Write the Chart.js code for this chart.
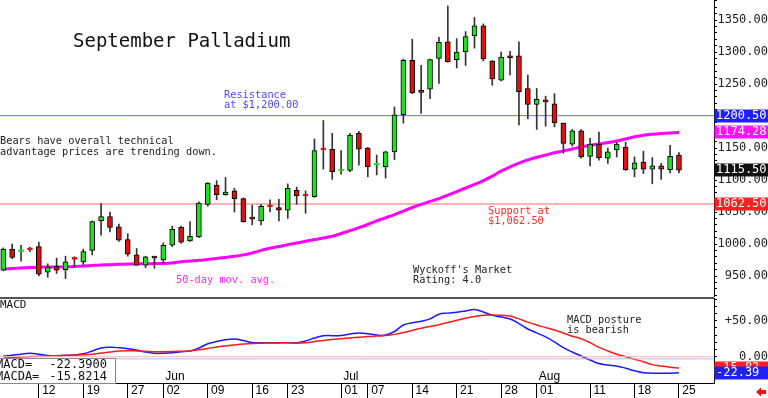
<!DOCTYPE html>
<html>
<head>
<meta charset="utf-8">
<script src="https://cdn.jsdelivr.net/npm/chart.js@4.4.1/dist/chart.umd.min.js"></script>
<style>
  html, body { margin: 0; padding: 0; background: #fff; }
  #wrap { position: relative; width: 768px; height: 398px; overflow: hidden; background: #fff; }
  #price { position: absolute; left: 0; top: 0; }
  #macd { position: absolute; left: 0; top: 297px; }
</style>
</head>
<body>
<div id="wrap">
  <canvas id="price" width="768" height="297"></canvas>
  <canvas id="macd" width="768" height="101"></canvas>
</div>
<script>
// daily candles, May 6 .. Aug 25
const opens  = [959,992,988,992,996,956,965,960,977,972,990,1036,1043,1027,1007,983,967,980,975,998,
                1026,1005,1011,1062,1092,1077,1083,1071,1041,1036,1059,1057,1053,1084,1076,1074,1148,1148,1114,1115,
                1173,1150,1123,1121,1144,1202,1287,1239,1242,1290,1316,1288,1300,1325,1341,1286,1256,1293,1294,1243,
                1218,1224,1219,1189,1156,1177,1137,1156,1134,1147,1151,1117,1128,1117,1122,1116,1139];
const highs  = [994,1000,998,995,1003,969,978,981,980,992,1036,1063,1050,1031,1016,993,981,981,1002,1028,
                1028,1035,1066,1096,1099,1104,1087,1072,1061,1062,1069,1070,1094,1089,1083,1164,1193,1173,1146,1173,
                1176,1151,1139,1145,1214,1289,1320,1279,1289,1323,1372,1321,1332,1354,1344,1287,1300,1301,1316,1264,
                1243,1231,1235,1189,1179,1179,1165,1175,1150,1159,1159,1136,1145,1135,1126,1154,1143];
const lows   = [958,977,973,988,950,948,954,946,964,968,983,1014,1019,1004,981,967,963,962,970,996,
                1001,1004,1010,1059,1069,1076,1050,1034,1030,1030,1050,1036,1040,1062,1048,1073,1117,1101,1109,1113,
                1123,1105,1108,1103,1132,1189,1235,1204,1227,1251,1284,1275,1279,1306,1286,1248,1255,1264,1186,1196,
                1179,1184,1183,1142,1153,1134,1122,1131,1126,1136,1115,1105,1110,1094,1101,1111,1111];
const closes = [992,979,989,991,953,964,959,972,976,988,1035,1043,1026,1006,984,967,980,978,998,1023,
                1003,1012,1064,1095,1077,1081,1071,1035,1039,1059,1058,1053,1087,1075,1075,1146,1147,1113,1115,1170,
                1148,1121,1124,1144,1202,1287,1236,1237,1288,1315,1285,1300,1324,1341,1289,1258,1292,1291,1238,1218,
                1226,1222,1189,1157,1177,1136,1156,1135,1144,1156,1116,1127,1117,1122,1117,1137,1115.5];
// 50-day moving average
const ma50 = [960.8,961.7,962.5,963.3,963.8,964.0,964.2,964.4,964.9,965.8,966.6,967.3,967.7,968.2,968.6,968.9,969.1,969.4,969.6,970.5,
              972.4,973.5,974.5,976,977.5,979,980.8,983,986,990,993.3,996,999,1001.5,1004.2,1007,1009.5,1012,1016.5,1020.8,
              1025.5,1030.5,1036,1041,1046,1051.5,1057,1062,1066.5,1071,1076.5,1082,1087.5,1093,1099,1106,1114,1120.5,1126.5,1131.5,
              1135.5,1139,1142.5,1145.5,1148.5,1151.5,1154,1156.2,1158.5,1161,1164,1167.5,1170,1171.5,1172.6,1173.5,1174.28];
const macd = [0.5,2,3.5,4.7,3.5,1.8,1.5,2,2.4,4,8,12,13,12.5,11.2,9.5,6.5,4.7,4.8,5.5,
              7,8,12,18,21,23.5,24.6,22.5,19.6,19.4,19.4,19.4,19.4,19.4,22,26,29.2,29.2,29.5,31.5,
              33,32,30,30,35,44,47,49.3,52.5,59,60.5,61.7,63.5,65.5,62,57.5,55,52.4,46,38.5,
              33,27.5,20.5,12.5,6.5,1,-4.5,-9.5,-11.5,-13,-16,-19.5,-22.2,-22.8,-23,-22.8,-22.39];
const macdSignal = [-2,-1.2,-0.5,0.2,0.7,1,1.4,1.8,2.2,2.6,3.5,5,6.5,7.8,8.3,8,7.5,7,7,7.2,
              7.6,8,9.5,11.5,13.5,15,16.3,17.5,18.4,18.8,19,19.2,19.3,18.8,19.5,21,22.6,24,25,26,
              27,28,28.7,29.4,31,33.5,36.5,39.5,41.8,44.5,47.5,50.5,53.5,55.8,57.4,57.9,57.4,56.5,52.5,48,
              44,40.5,37,33,28.5,25,19.5,13,8,3.5,0,-3.5,-7,-11,-13,-14.6,-15.8214];
const resistance = 1200.5;
const support = 1062.5;
const weekTicks  = [4, 9, 14, 18, 23, 28, 32, 38, 41, 46, 51, 56, 60, 66, 71, 76];
const weekLabels = ['12','19','27','02','09','16','23','01','07','14','21','28','01','11','18','25'];
const monthTicks  = [18, 38, 60];
const monthLabels = ['Jun', 'Jul', 'Aug'];

const X_MIN = -0.37, X_MAX = 79.94;
const MONO = "'DejaVu Sans Mono', monospace";
const SANS = "'Liberation Sans', Arial, sans-serif";
const GREEN = '#1ee01e', RED = '#e01010';

const idx = opens.map((_, i) => i);
const candleColor = i => closes[i] >= opens[i] ? GREEN : RED;
const isDash = i => Math.abs(closes[i] - opens[i]) < 1.5;

function valueBox(ctx, y, text, bg) {
  ctx.fillStyle = bg;
  ctx.fillRect(714.5, Math.round(y) - 6.5, 54, 13);
  ctx.fillStyle = '#fff';
  ctx.font = '12px ' + MONO;
  ctx.textAlign = 'left';
  ctx.textBaseline = 'middle';
  ctx.fillText(text, 716, Math.round(y));
}

function textLines(ctx, lines, x, y, step, color, font) {
  ctx.fillStyle = color;
  ctx.font = font;
  ctx.textAlign = 'left';
  ctx.textBaseline = 'middle';
  lines.forEach((t, k) => ctx.fillText(t, x, y + k * step));
}

const priceNotes = {
  id: 'priceNotes',
  afterDraw(chart) {
    const ctx = chart.ctx, y = chart.scales.y;
    const small = '10.3px ' + MONO;
    ctx.save();
    textLines(ctx, ['September Palladium'], 73, 42, 0, '#111', '19px ' + MONO);
    textLines(ctx, ['Resistance', 'at $1,200.00'], 224, 95, 10.5, '#4a4aff', small);
    textLines(ctx, ['Bears have overall technical', 'advantage prices are trending down.'], 0, 141.5, 11, '#222', small);
    textLines(ctx, ['Support at', '$1,062.50'], 488, 211, 10.5, '#ff2a2a', small);
    textLines(ctx, ['50-day mov. avg.'], 176, 280, 0, '#ff2aff', small);
    textLines(ctx, ["Wyckoff's Market", 'Rating: 4.0'], 413, 270, 10.5, '#222', small);
    valueBox(ctx, y.getPixelForValue(resistance), resistance.toFixed(2), '#2020ff');
    valueBox(ctx, y.getPixelForValue(ma50[ma50.length - 1]), ma50[ma50.length - 1].toFixed(2), '#ff10ff');
    valueBox(ctx, y.getPixelForValue(closes[closes.length - 1]), closes[closes.length - 1].toFixed(2), '#111');
    valueBox(ctx, y.getPixelForValue(support), support.toFixed(2), '#ff2020');
    ctx.restore();
  }
};

new Chart(document.getElementById('price'), {
  type: 'bar',
  data: {
    datasets: [
      { type: 'line', data: idx.map(i => ({ x: i, y: ma50[i] })), borderColor: '#ff00ff', borderWidth: 3,
        pointRadius: 0, tension: 0.3, order: 3 },
      { type: 'line', data: [{ x: X_MIN, y: resistance }, { x: X_MAX, y: resistance }], borderColor: '#6a6aff',
        borderWidth: 1, pointRadius: 0, order: 4 },
      { type: 'line', data: [{ x: X_MIN, y: support }, { x: X_MAX, y: support }], borderColor: '#ff6a6a',
        borderWidth: 1, pointRadius: 0, order: 4 },
      { data: idx.map(i => ({ x: i, y: [lows[i], highs[i]] })), backgroundColor: '#333', borderWidth: 0,
        barThickness: 1, grouped: false, order: 2 },
      { data: idx.map(i => ({ x: i, y: [Math.min(opens[i], closes[i]), Math.max(opens[i], closes[i])] })),
        backgroundColor: idx.map(candleColor),
        borderColor: idx.map(i => isDash(i) ? candleColor(i) : '#000'),
        borderWidth: 1, borderSkipped: false, barThickness: 5, minBarLength: 2, grouped: false, order: 1 }
    ]
  },
  options: {
    responsive: false, animation: false, devicePixelRatio: 1,
    layout: { padding: 0 },
    plugins: { legend: { display: false }, tooltip: { enabled: false } },
    scales: {
      x: { type: 'linear', min: X_MIN, max: X_MAX, bounds: 'data', offset: false, display: false },
      y: {
        position: 'right', min: 917.2, max: 1381.25, bounds: 'data',
        afterBuildTicks: s => { const t = []; for (let v = 920; v <= 1380; v += 10) t.push({ value: v }); s.ticks = t; },
        afterFit: s => { s.width = 54; s.paddingTop = 0; s.paddingBottom = 0; },
        ticks: { autoSkip: false, padding: -1, crossAlign: 'far', color: '#222', font: { family: MONO, size: 12 },
                 callback: v => (v % 50 === 0 && v >= 950 && v <= 1350) ? v.toFixed(2) : '' },
        grid: { drawOnChartArea: false, tickLength: 3, color: '#000' },
        border: { color: '#000' }
      }
    }
  },
  plugins: [priceNotes]
});

const macdNotes = {
  id: 'macdNotes',
  beforeDraw(chart) {
    const ctx = chart.ctx;
    ctx.save();
    ctx.fillStyle = '#555';
    ctx.fillRect(0, 0, chart.chartArea.right, 2);
    ctx.restore();
  },
  afterDraw(chart) {
    const ctx = chart.ctx, x = chart.scales.x, y = chart.scales.y;
    ctx.save();
    textLines(ctx, ['MACD'], 0, 8.5, 0, '#111', '11px ' + MONO);
    textLines(ctx, ['MACD posture', 'is bearish'], 567, 23, 10, '#222', '10.3px ' + MONO);
    // month names at their first trading day
    ctx.font = '12px ' + SANS;
    ctx.fillStyle = '#000';
    monthLabels.forEach((m, k) => ctx.fillText(m, x.getPixelForValue(monthTicks[k]) + 2, 80));
    // readout box
    ctx.fillStyle = '#fff';
    ctx.fillRect(0, 61, 115, 25);
    ctx.strokeStyle = '#888';
    ctx.lineWidth = 1;
    ctx.strokeRect(-1, 61.5, 116.5, 25);
    ctx.fillStyle = '#111';
    ctx.font = '12px ' + MONO;
    ctx.fillText('MACD=', -4, 67.5);
    ctx.fillText('MACDA=', -4, 79.5);
    ctx.textAlign = 'right';
    ctx.fillText(macd[macd.length - 1].toFixed(4), 107, 67.5);
    ctx.fillText(macdSignal[macdSignal.length - 1].toFixed(4), 107, 79.5);
    valueBox(ctx, y.getPixelForValue(macdSignal[macdSignal.length - 1]), macdSignal[macdSignal.length - 1].toFixed(2), '#ff2020');
    valueBox(ctx, y.getPixelForValue(macd[macd.length - 1]), macd[macd.length - 1].toFixed(2), '#2020ff');
    // scroll arrow
    ctx.fillStyle = '#ee1111';
    ctx.beginPath();
    ctx.moveTo(756, 95); ctx.lineTo(761, 90.5); ctx.lineTo(761, 93); ctx.lineTo(766, 93);
    ctx.lineTo(766, 97); ctx.lineTo(761, 97); ctx.lineTo(761, 99.5); ctx.closePath();
    ctx.fill();
    ctx.restore();
  }
};

new Chart(document.getElementById('macd'), {
  type: 'line',
  data: {
    datasets: [
      { data: [{ x: X_MIN, y: 0 }, { x: X_MAX, y: 0 }], borderColor: '#ffb4b4', borderWidth: 1, pointRadius: 0 },
      { data: [{ x: X_MIN, y: -3 }, { x: X_MAX, y: -3 }], borderColor: '#b8b8ff', borderWidth: 1, pointRadius: 0 },
      { data: idx.map(i => ({ x: i, y: macdSignal[i] })), borderColor: '#ff1a1a', borderWidth: 1.5, pointRadius: 0, tension: 0.4 },
      { data: idx.map(i => ({ x: i, y: macd[i] })), borderColor: '#1a1aff', borderWidth: 1.5, pointRadius: 0, tension: 0.4 }
    ]
  },
  options: {
    responsive: false, animation: false, devicePixelRatio: 1,
    layout: { padding: { top: 1 } },
    plugins: { legend: { display: false }, tooltip: { enabled: false } },
    scales: {
      x: {
        type: 'linear', min: X_MIN, max: X_MAX, bounds: 'data', offset: false, position: 'bottom',
        afterBuildTicks: s => { s.ticks = weekTicks.map(v => ({ value: v })); },
        afterFit: s => { s.height = 15; s.paddingLeft = 0; s.paddingRight = 0; },
        ticks: { autoSkip: false, maxRotation: 0, minRotation: 0, align: 'start', padding: -15, color: '#000',
                 font: { family: SANS, size: 12 },
                 callback: v => ' ' + weekLabels[weekTicks.indexOf(v)] },
        grid: { drawOnChartArea: false, tickLength: 15, color: '#000' },
        border: { color: '#000' }
      },
      y: {
        position: 'right', min: -36.5, max: 81.5, bounds: 'data',
        afterBuildTicks: s => { const t = []; for (let v = -30; v <= 80; v += 10) t.push({ value: v }); s.ticks = t; },
        afterFit: s => { s.width = 54; s.paddingTop = 0; s.paddingBottom = 0; },
        ticks: { autoSkip: false, padding: -2, crossAlign: 'far', color: '#222', font: { family: MONO, size: 12 },
                 callback: v => v === 50 ? '+50.00' : (v === 0 ? '0.00' : '') },
        grid: { drawOnChartArea: false, tickLength: 3, color: '#000' },
        border: { color: '#000' }
      }
    }
  },
  plugins: [macdNotes]
});
</script>
</body>
</html>
